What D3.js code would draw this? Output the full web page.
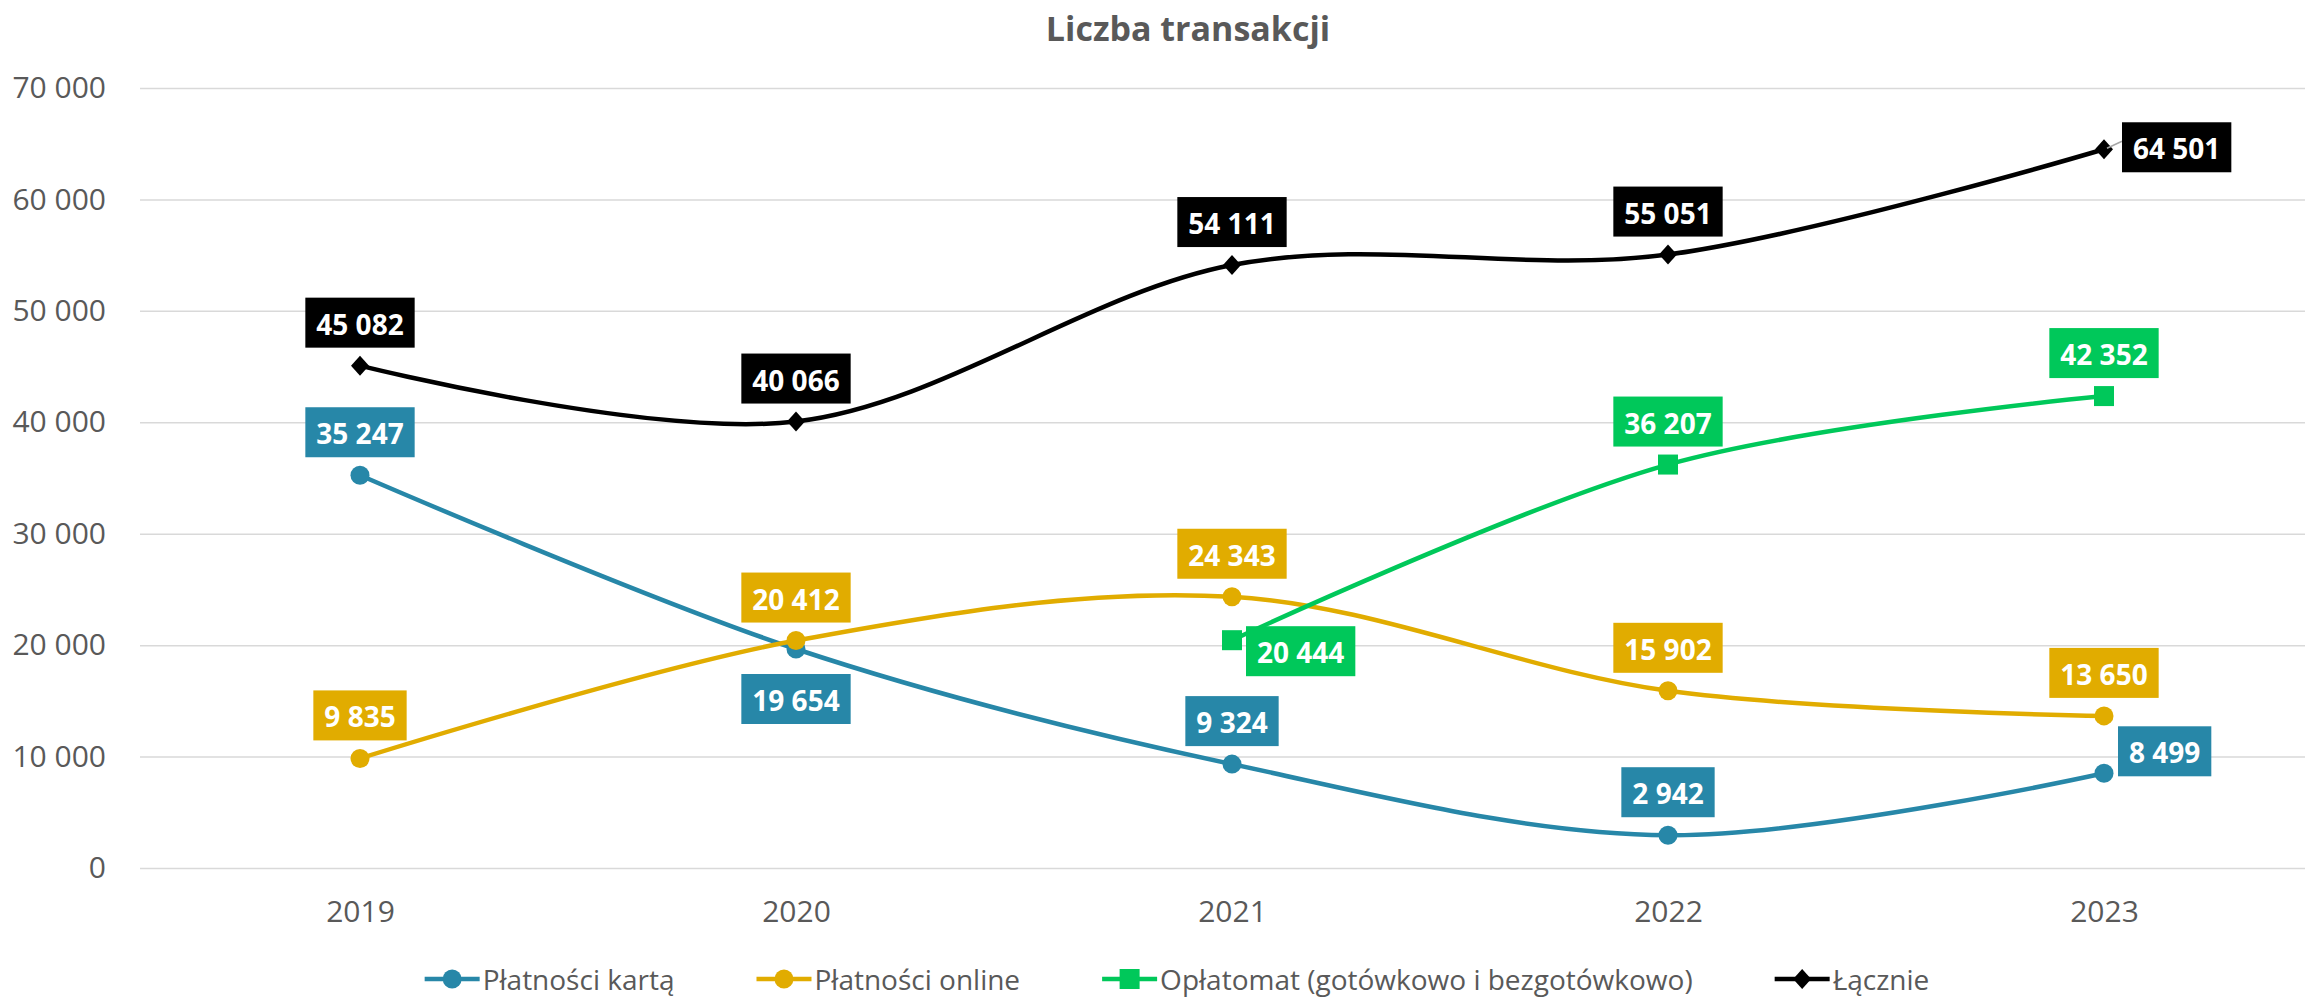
<!DOCTYPE html>
<html>
<head>
<meta charset="utf-8">
<script src="https://cdn.jsdelivr.net/npm/d3@7"></script>
<style>
  body { margin: 0; background: #fff; }
  svg { display: block; font-family: "Open Sans", "Noto Sans", sans-serif; }
</style>
</head>
<body>
<div id="chart"></div>
<script>
// Data
const years = ['2019', '2020', '2021', '2022', '2023'];
const kartaValues = [35247, 19654, 9324, 2942, 8499];
const onlineValues = [9835, 20412, 24343, 15902, 13650];
const oplatomatValues = [null, null, 20444, 36207, 42352];
const lacznieValues = [45082, 40066, 54111, 55051, 64501];
const yTicks = [0, 10000, 20000, 30000, 40000, 50000, 60000, 70000];

// Series config (colours, markers, where each label sits)
const series = [
  { name: 'Płatności kartą', values: kartaValues, color: '#2787A8', marker: 'circle',
    labelPos: ['t', 'b', 't', 't', 'r'] },
  { name: 'Płatności online', values: onlineValues, color: '#E1AC00', marker: 'circle',
    labelPos: ['t', 't', 't', 't', 't'] },
  { name: 'Opłatomat (gotówkowo i bezgotówkowo)', values: oplatomatValues, color: '#00C85A', marker: 'square',
    labelPos: [null, null, 'r', 't', 't'] },
  { name: 'Łącznie', values: lacznieValues, color: '#000000', marker: 'diamond',
    labelPos: ['t', 't', 't', 't', 'r'] }
];

const config = {
  width: 2305,
  height: 999,
  margin: { top: 88, right: 0, bottom: 130, left: 140 }
};

const W = config.width, H = config.height, m = config.margin;
const svg = d3.select('#chart').append('svg')
  .attr('width', W)
  .attr('height', H);

// plot area runs slightly past the right edge, as in the original
const x = d3.scalePoint()
  .domain(years)
  .range([142, 2322])
  .padding(0.5);

const y = d3.scaleLinear()
  .domain([0, 70000])
  .range([H - m.bottom - 1, m.top]);

const locale = d3.formatLocale({ decimal: ',', thousands: ' ', grouping: [3] });
const fmt = locale.format(',d');

// Title
svg.append('text')
  .attr('x', 1188)
  .attr('y', 41)
  .attr('text-anchor', 'middle')
  .attr('font-size', 34)
  .attr('font-weight', 700)
  .attr('fill', '#595959')
  .text('Liczba transakcji');

// Y axis with gridlines
const yAxis = svg.append('g')
  .attr('transform', `translate(${m.left},0)`)
  .call(d3.axisLeft(y).tickValues(yTicks).tickFormat(fmt).tickSize(-(W - m.left - m.right)).tickPadding(34));
yAxis.select('.domain').remove();
yAxis.selectAll('.tick line').attr('stroke', '#d9d9d9').attr('stroke-width', 1.5);
yAxis.selectAll('.tick text')
  .attr('font-size', 30)
  .attr('fill', '#595959')
  .attr('font-family', '"Open Sans", sans-serif');

// X axis labels
const xAxis = svg.append('g')
  .attr('transform', `translate(0,${H - m.bottom})`)
  .call(d3.axisBottom(x).tickSize(0).tickPadding(32));
xAxis.select('.domain').remove();
xAxis.selectAll('.tick text')
  .attr('font-size', 30)
  .attr('fill', '#595959')
  .attr('font-family', '"Open Sans", sans-serif');

// Lines
const line = d3.line()
  .defined(d => d != null)
  .x((d, i) => x(years[i]))
  .y(d => y(d))
  .curve(d3.curveCardinal.tension(0));

function drawMarker(g, type, cx, cy, color) {
  if (type === 'circle') {
    g.append('circle').attr('cx', cx).attr('cy', cy).attr('r', 9.5).attr('fill', color);
  } else if (type === 'square') {
    g.append('rect').attr('x', cx - 10).attr('y', cy - 10).attr('width', 20).attr('height', 20).attr('fill', color);
  } else {
    g.append('path')
      .attr('d', `M${cx},${cy - 10}L${cx + 9},${cy}L${cx},${cy + 10}L${cx - 9},${cy}Z`)
      .attr('fill', color);
  }
}

series.forEach(s => {
  const g = svg.append('g');
  g.append('path')
    .datum(s.values)
    .attr('d', line)
    .attr('fill', 'none')
    .attr('stroke', s.color)
    .attr('stroke-width', 4.5);
  s.values.forEach((v, i) => {
    if (v == null) return;
    drawMarker(g, s.marker, x(years[i]), y(v), s.color);
  });
});

// Data labels (drawn after all lines so they sit on top)
const labelFont = 28, padX = 11, boxH = 50;
series.forEach(s => {
  const g = svg.append('g');
  s.values.forEach((v, i) => {
    if (v == null) return;
    const px = x(years[i]), py = y(v);
    const pos = s.labelPos[i];
    const t = g.append('text')
      .attr('font-size', labelFont)
      .attr('font-weight', 700)
      .attr('fill', '#fff')
      .attr('text-anchor', 'middle')
      .attr('dominant-baseline', 'central')
      .text(fmt(v));
    const tw = t.node().getComputedTextLength();
    const bw = tw + padX * 2;
    let cx = px, cy = py - 43;
    if (pos === 'b') cy = py + 50;
    if (pos === 'r') {
      cx = px + 14 + bw / 2;
      cy = s.name === 'Płatności kartą' ? py - 22 : py + 11;
      if (s.name === 'Łącznie') {
        cx += 4; cy = py - 2;
        g.insert('line', 'text')
          .attr('x1', px + 3).attr('y1', py - 1)
          .attr('x2', cx - bw / 2).attr('y2', py - 8)
          .attr('stroke', '#a6a6a6').attr('stroke-width', 1.5);
      }
    }
    g.insert('rect', 'text')
      .attr('x', cx - bw / 2)
      .attr('y', cy - boxH / 2)
      .attr('width', bw)
      .attr('height', boxH)
      .attr('fill', s.color);
    t.attr('x', cx).attr('y', cy + 1);
  });
});

// Legend
const legend = svg.append('g');
const legendY = 979;
const legendGap = 82;
let lx = 0;
series.forEach(s => {
  const it = legend.append('g');
  it.append('line')
    .attr('x1', 0).attr('x2', 55)
    .attr('y1', 0).attr('y2', 0)
    .attr('stroke', s.color).attr('stroke-width', 4.5);
  drawMarker(it, s.marker, 27.5, 0, s.color);
  const tx = it.append('text')
    .attr('x', 58)
    .attr('y', 0)
    .attr('dominant-baseline', 'central')
    .attr('font-size', 28)
    .attr('fill', '#595959')
    .text(s.name);
  const w = 58 + tx.node().getComputedTextLength();
  it.attr('transform', `translate(${lx},${legendY})`);
  lx += w + legendGap;
});
const legendW = lx - legendGap;
legend.attr('transform', `translate(${1177 - legendW / 2},0)`);
</script>
</body>
</html>
